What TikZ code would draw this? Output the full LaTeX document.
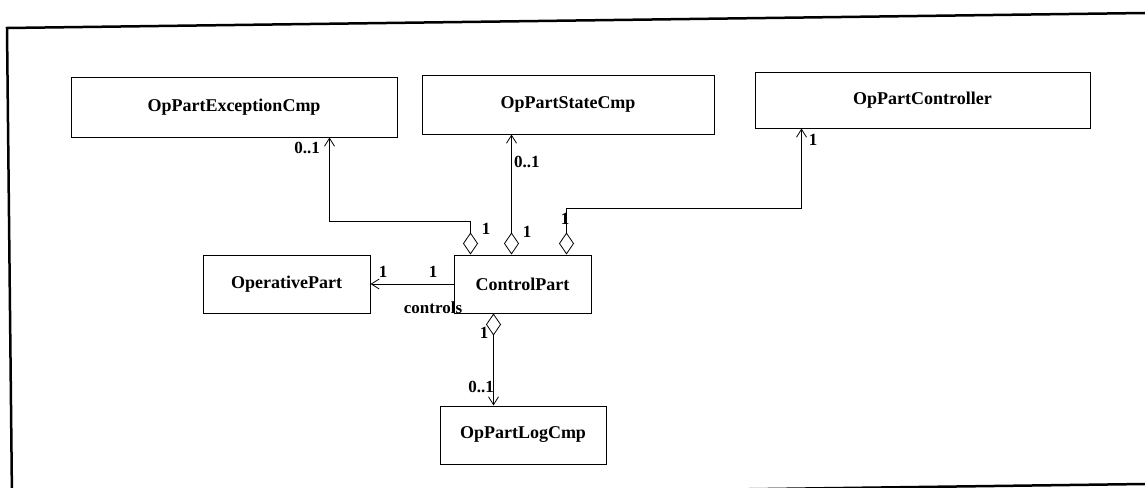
\documentclass[tikz,border=0pt]{standalone}
\usepackage{fontspec}
\setmainfont{Liberation Serif}
\usetikzlibrary{arrows.meta}
\begin{document}
\begin{tikzpicture}[x=1pt,y=-1pt,
  cls/.style={draw, line width=1pt, inner sep=0pt, font=\fontsize{18}{20}\selectfont\bfseries},
  lbl/.style={inner sep=0pt, font=\fontsize{17}{19}\selectfont\bfseries},
  agg/.style={line width=0.8pt, {Diamond[open,length=22pt,width=15pt]}-{Straight Barb[length=8pt,width=10pt]}},
  ass/.style={line width=0.8pt, -{Straight Barb[length=8pt,width=10pt]}}]
\useasboundingbox (0,0) rectangle (1145,487);

% outer frame
\draw[line width=2.5pt] (1145,13) -- (7,28) -- (12,499) -- (1145,484);

% classes
\node[cls, minimum width=326pt, minimum height=60pt] (exc) at (234,107) {OpPartExceptionCmp};
\node[cls, minimum width=292pt, minimum height=59pt] (st)  at (568,104.5) {OpPartStateCmp};
\node[cls, minimum width=335pt, minimum height=56pt] (ctr) at (922.5,100) {OpPartController};
\node[cls, minimum width=167pt, minimum height=58pt] (op)  at (286.5,284) {OperativePart};
\node[cls, minimum width=137pt, minimum height=58pt] (ctl) at (522.5,284) {ControlPart};
\node[cls, minimum width=166pt, minimum height=58pt] (log) at (523,435) {OpPartLogCmp};

% aggregation end points on ControlPart
\coordinate (a1) at ([xshift=17pt]ctl.north west);
\coordinate (a2) at ([xshift=58pt]ctl.north west);
\coordinate (a3) at ([xshift=113pt]ctl.north west);
\coordinate (a5) at ([xshift=40pt]ctl.south west);

% connectors
\draw[agg] (a1) -- ++(0,-33) -| ([xshift=259pt]exc.south west);
\draw[agg] (a2) -- (a2 |- st.south);
\draw[agg] (a3) -- ++(0,-46) -| ([xshift=47pt]ctr.south west);
\draw[ass] (ctl.west) -- (op.east);
\draw[agg] (a5) -- (a5 |- log.north);

% multiplicities and role
\node[lbl, anchor=east] (m1) at (320,148) {0..1};
\node[lbl] (m2) at (486,229) {1};
\node[lbl, anchor=west] (m3) at (514,162) {0..1};
\node[lbl] (m4) at (527,232) {1};
\node[lbl] (m5) at (565,219) {1};
\node[lbl] (m6) at (813,140) {1};
\node[lbl] (m7) at (433,272) {1};
\node[lbl] (m8) at (383,272) {1};
\node[lbl] (role) at (433,308) {controls};
\node[lbl] (m9) at (484,333) {1};
\node[lbl, anchor=east] (m10) at (494,387) {0..1};
\end{tikzpicture}
\end{document}
